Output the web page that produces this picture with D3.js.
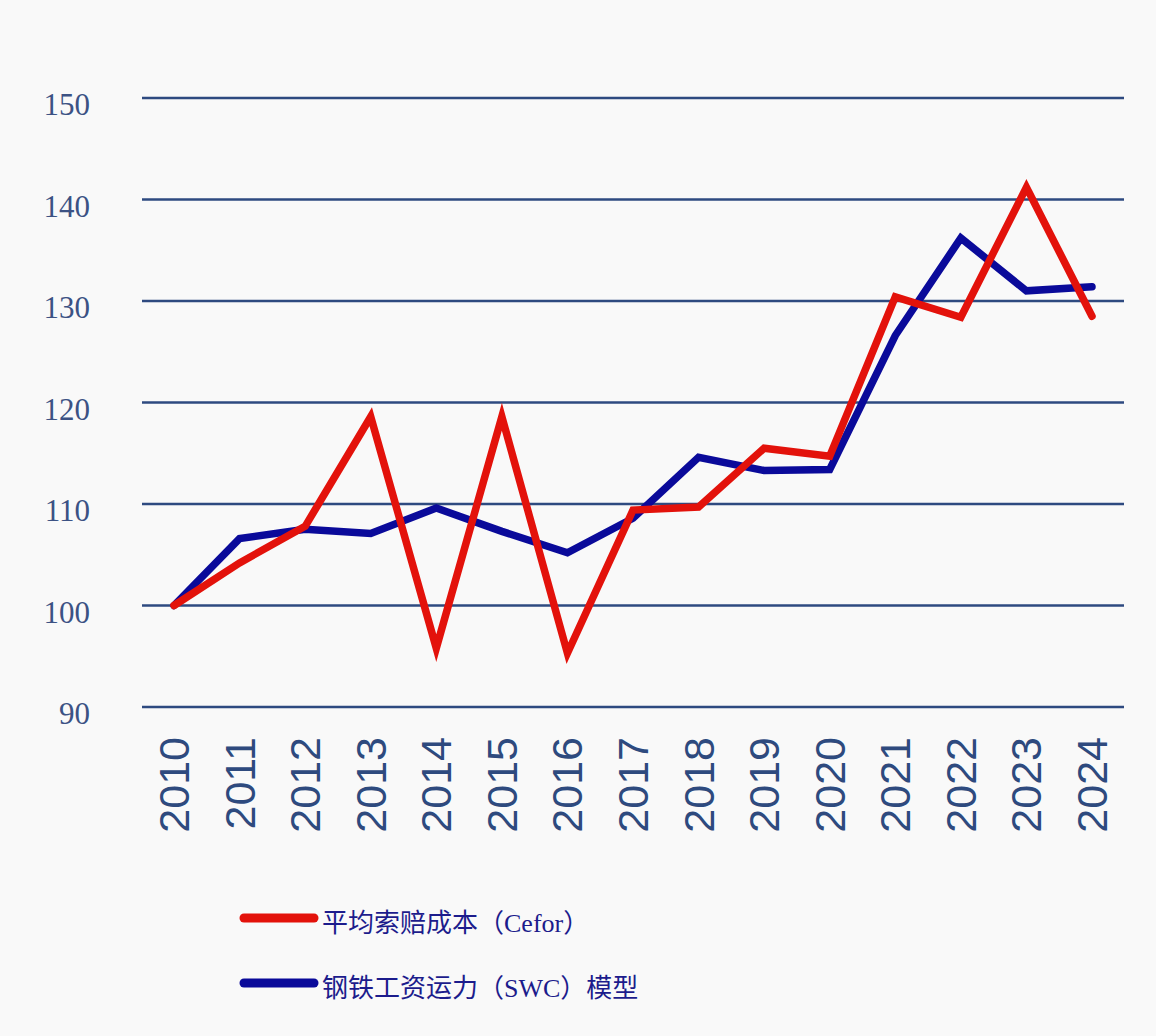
<!DOCTYPE html>
<html lang="zh">
<head>
<meta charset="UTF-8">
<title>平均索赔成本与钢铁工资运力模型</title>
<script src="https://d3js.org/d3.v7.min.js"></script>
<style>
  body { margin: 0; background: #f9f9f9; }
</style>
</head>
<body>
<div id="chart"></div>
<script>
const years = ["2010","2011","2012","2013","2014","2015","2016","2017","2018","2019","2020","2021","2022","2023","2024"];
const cefor = [100, 104.2, 107.8, 118.6, 95.8, 118.6, 95.3, 109.4, 109.7, 115.5, 114.7, 130.4, 128.4, 141.2, 128.5];
const swc = [100, 106.6, 107.5, 107.1, 109.6, 107.3, 105.2, 108.6, 114.6, 113.3, 113.4, 126.6, 136.2, 131.0, 131.4];
const yTicks = [90, 100, 110, 120, 130, 140, 150];
const seriesNames = ["平均索赔成本（Cefor）", "钢铁工资运力（SWC）模型"];
const colors = ["#e3120b", "#0a0a9a"];

const width = 1156, height = 1036;
const svg = d3.select("#chart").append("svg")
  .attr("width", width).attr("height", height)
  .style("background", "#f9f9f9");

const x = d3.scalePoint().domain(years).range([174, 1092]);
const y = d3.scaleLinear().domain([90, 150]).range([707, 98]);

// grid lines
svg.append("g").selectAll("line").data(yTicks).join("line")
  .attr("x1", 142).attr("x2", 1124)
  .attr("y1", d => y(d)).attr("y2", d => y(d))
  .attr("stroke", "#2e4a80").attr("stroke-width", 2.5);

// y labels
svg.append("g").selectAll("text").data(yTicks).join("text")
  .attr("x", 90).attr("y", d => y(d) + 17)
  .attr("text-anchor", "end")
  .attr("font-family", "'Liberation Serif', 'DejaVu Serif', serif")
  .attr("font-size", 31)
  .attr("fill", "#3c5284")
  .text(d => d);

// x labels
svg.append("g").selectAll("text").data(years).join("text")
  .attr("transform", d => `translate(${x(d) + 15},737) rotate(-90)`)
  .attr("text-anchor", "end")
  .attr("font-family", "'Liberation Sans', Arial, sans-serif")
  .attr("font-size", 43)
  .attr("fill", "#2e4a7e")
  .text(d => d);

const line = d3.line().x((d, i) => x(years[i])).y(d => y(d));

[swc, cefor].forEach((s, k) => {
  svg.append("path")
    .datum(s)
    .attr("d", line)
    .attr("fill", "none")
    .attr("stroke", k === 0 ? colors[1] : colors[0])
    .attr("stroke-width", 7.5)
    .attr("stroke-linejoin", "miter")
    .attr("stroke-linecap", "round");
});

// legend
const legend = svg.append("g").selectAll("g").data(seriesNames).join("g")
  .attr("transform", (d, i) => `translate(240,${918 + i * 65})`);
legend.append("line")
  .attr("x1", 4).attr("x2", 74)
  .attr("stroke", (d, i) => colors[i])
  .attr("stroke-width", 9).attr("stroke-linecap", "round");
legend.append("text")
  .attr("x", 82).attr("y", 14)
  .attr("font-family", "'Liberation Serif', 'Noto Sans CJK SC', serif")
  .attr("font-size", 26)
  .attr("fill", "#1c1c8c")
  .text(d => d);
</script>
</body>
</html>
